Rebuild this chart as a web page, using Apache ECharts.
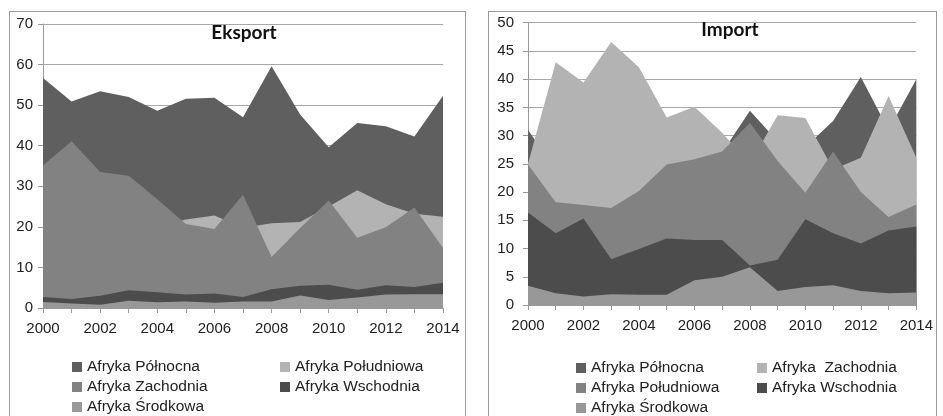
<!DOCTYPE html>
<html>
<head>
<meta charset="utf-8">
<script src="https://cdn.jsdelivr.net/npm/echarts@6/dist/echarts.min.js"></script>
<style>
  html, body { margin: 0; padding: 0; background: #fff; overflow: hidden; }
  body { width: 943px; height: 416px; position: relative; }
  .panel { position: absolute; top: 11px; height: 420px; border: 1px solid #9a9a9a; box-sizing: border-box; }
  #eksport { left: 9px; width: 457px; }
  #import { left: 488px; width: 449px; }
</style>
</head>
<body>
<div class="panel" id="eksport"></div>
<div class="panel" id="import"></div>
<script>
// years on the x axis
const years = ['2000', '2001', '2002', '2003', '2004', '2005', '2006', '2007',
    '2008', '2009', '2010', '2011', '2012', '2013', '2014'];

// Eksport
const exPolnocna = [56.7, 50.9, 53.4, 52.0, 48.6, 51.6, 51.8, 47.0, 59.6, 47.7, 39.6, 45.6, 44.8, 42.3, 52.3];
const exPoludniowa = [18.0, 17.5, 17.0, 18.0, 20.0, 21.8, 22.8, 19.8, 20.9, 21.2, 25.0, 29.0, 25.6, 23.2, 22.5];
const exZachodnia = [35.1, 41.1, 33.5, 32.6, 26.8, 20.7, 19.5, 27.9, 12.6, 19.7, 26.5, 17.3, 19.9, 24.8, 14.8];
const exWschodnia = [2.7, 2.2, 3.0, 4.4, 3.9, 3.3, 3.6, 2.7, 4.6, 5.5, 5.7, 4.5, 5.6, 5.2, 6.2];
const exSrodkowa = [1.5, 1.1, 0.8, 1.8, 1.4, 1.6, 1.3, 1.6, 1.6, 3.1, 2.0, 2.6, 3.3, 3.4, 3.4];

// Import
const imPolnocna = [31.0, 24.0, 26.0, 27.0, 27.0, 28.0, 27.0, 27.0, 34.4, 29.0, 28.0, 32.6, 40.4, 31.0, 40.0];
const imZachodnia = [25.0, 43.0, 39.4, 46.6, 42.1, 33.2, 35.1, 30.5, 25.0, 33.6, 33.1, 24.0, 26.1, 37.0, 26.1];
const imPoludniowa = [24.9, 18.2, 17.7, 17.2, 20.2, 24.9, 25.8, 27.2, 32.3, 25.5, 19.9, 27.2, 20.0, 15.6, 17.8];
const imWschodnia = [16.4, 12.7, 15.3, 8.1, 9.9, 11.8, 11.5, 11.5, 7.0, 8.0, 15.2, 12.7, 10.9, 13.2, 13.9];
const imSrodkowa = [3.4, 2.1, 1.5, 1.9, 1.8, 1.8, 4.4, 5.0, 6.7, 2.5, 3.2, 3.5, 2.5, 2.1, 2.2];

const C_DARK = '#5f5f5f';
const C_MID = '#828282';
const C_LIGHT = '#b3b3b3';
const C_DARKEST = '#4c4c4c';
const C_BOTTOM = '#989898';

const FONT = 'Liberation Sans';

function area(name, data, color) {
    return {
        name: name,
        type: 'line',
        data: data,
        showSymbol: false,
        symbol: 'none',
        lineStyle: { width: 0 },
        itemStyle: { color: color },
        areaStyle: { color: color, opacity: 1 },
        emphasis: { disabled: true },
        animation: false
    };
}

function legend(names, left, top, textGap) {
    return {
        orient: 'vertical',
        left: left,
        top: top,
        data: names,
        icon: 'rect',
        itemWidth: 10,
        itemHeight: 10,
        itemGap: 4,
        itemTextGap: textGap,
        textStyle: { fontFamily: FONT, fontSize: 15.5, color: '#222', lineHeight: 16 }
    };
}

function makeOption(cfg) {
    return {
        animation: false,
        backgroundColor: '#fff',
        title: {
            text: cfg.title,
            left: cfg.titleLeft,
            top: cfg.titleTop,
            textAlign: 'center',
            textStyle: { fontFamily: 'Lato', fontWeight: 'bold', fontSize: 19, color: '#111' }
        },
        grid: { left: cfg.gridLeft, top: cfg.gridTop, width: cfg.gridWidth, height: cfg.gridHeight },
        xAxis: {
            type: 'category',
            data: years,
            boundaryGap: false,
            axisLine: { lineStyle: { color: '#999' } },
            axisTick: { show: true, interval: 0, length: 5, lineStyle: { color: '#999' } },
            axisLabel: { interval: 1, margin: 13, fontFamily: FONT, fontSize: 15, color: '#222' },
            splitLine: { show: false }
        },
        yAxis: {
            type: 'value',
            min: 0,
            max: cfg.yMax,
            interval: cfg.yStep,
            axisLine: { show: true, lineStyle: { color: '#999' } },
            axisTick: { show: true, length: 5, lineStyle: { color: '#999' } },
            axisLabel: { margin: cfg.yMargin, fontFamily: FONT, fontSize: 15, color: '#222' },
            splitLine: { lineStyle: { color: '#a8a8a8', width: 1 } }
        },
        legend: cfg.legends,
        series: cfg.series
    };
}

// left chart
const exChart = echarts.init(document.getElementById('eksport'));
exChart.setOption(makeOption({
    title: 'Eksport',
    titleLeft: 229,
    titleTop: 6,
    gridLeft: 33,
    gridTop: 12,
    gridWidth: 400,
    gridHeight: 284,
    yMax: 70,
    yStep: 10,
    yMargin: 10,
    legends: [
        legend(['Afryka Północna', 'Afryka Zachodnia', 'Afryka Środkowa'], 57, 342, 11),
        legend(['Afryka Południowa', 'Afryka Wschodnia'], 265, 342, 8)
    ],
    series: [
        area('Afryka Północna', exPolnocna, C_DARK),
        area('Afryka Południowa', exPoludniowa, C_LIGHT),
        area('Afryka Zachodnia', exZachodnia, C_MID),
        area('Afryka Wschodnia', exWschodnia, C_DARKEST),
        area('Afryka Środkowa', exSrodkowa, C_BOTTOM)
    ]
}));

// right chart
const imChart = echarts.init(document.getElementById('import'));
imChart.setOption(makeOption({
    title: 'Import',
    titleLeft: 236,
    titleTop: 3,
    gridLeft: 39,
    gridTop: 10.7,
    gridWidth: 399,
    gridHeight: 282.3,
    yMax: 50,
    yStep: 5,
    yMargin: 14,
    legends: [
        legend(['Afryka Północna', 'Afryka Południowa', 'Afryka Środkowa'], 82, 343, 4),
        legend(['Afryka  Zachodnia', 'Afryka Wschodnia'], 263, 343, 4)
    ],
    series: [
        area('Afryka Północna', imPolnocna, C_DARK),
        area('Afryka  Zachodnia', imZachodnia, C_LIGHT),
        area('Afryka Południowa', imPoludniowa, C_MID),
        area('Afryka Wschodnia', imWschodnia, C_DARKEST),
        area('Afryka Środkowa', imSrodkowa, C_BOTTOM)
    ]
}));
</script>
</body>
</html>
